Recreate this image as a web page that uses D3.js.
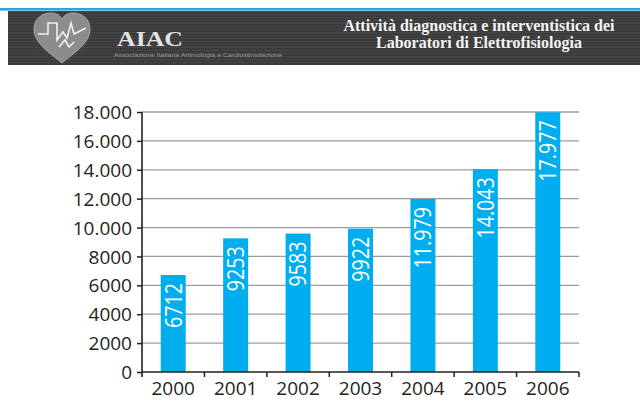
<!DOCTYPE html>
<html>
<head>
<meta charset="utf-8">
<script src="https://cdn.jsdelivr.net/npm/d3@7"></script>
<style>
  html, body { margin: 0; padding: 0; background: #fff; }
  svg { display: block; }
</style>
</head>
<body>
<div id="chart"></div>
<script>
// dati
const anni = ["2000", "2001", "2002", "2003", "2004", "2005", "2006"];
const valori = [6712, 9253, 9583, 9922, 11979, 14043, 17977];
const etichette = ["6712", "9253", "9583", "9922", "11.979", "14.043", "17.977"];
const tickValori = [0, 2000, 4000, 6000, 8000, 10000, 12000, 14000, 16000, 18000];
const tickEtichette = ["0", "2000", "4000", "6000", "8000", "10.000", "12.000", "14.000", "16.000", "18.000"];
const titolo = ["Attività diagnostica e interventistica dei", "Laboratori di Elettrofisiologia"];

const W = 640, H = 401;
const svg = d3.select("#chart").append("svg")
    .attr("width", W).attr("height", H);

// ---- intestazione ----
const defs = svg.append("defs");
const pat = defs.append("pattern")
    .attr("id", "righe").attr("patternUnits", "userSpaceOnUse")
    .attr("width", 4).attr("height", 3);
pat.append("rect").attr("width", 4).attr("height", 3).attr("fill", "#3b3b3b");
pat.append("rect").attr("y", 2).attr("width", 4).attr("height", 1).attr("fill", "#474747");

const alone = defs.append("radialGradient").attr("id", "alone");
alone.append("stop").attr("offset", "0%").attr("stop-color", "#6a6a6a").attr("stop-opacity", 0.8);
alone.append("stop").attr("offset", "100%").attr("stop-color", "#3b3b3b").attr("stop-opacity", 0);

svg.append("rect").attr("x", 0).attr("y", 8).attr("width", W).attr("height", 2.6).attr("fill", "#22a9e1");
svg.append("rect").attr("x", 8).attr("y", 11).attr("width", W - 8).attr("height", 54).attr("fill", "url(#righe)");

// logo cuore
const logo = svg.append("g").attr("transform", "translate(62,38)");
logo.append("ellipse").attr("rx", 36).attr("ry", 28).attr("fill", "url(#alone)");
logo.append("path")
    .attr("d", "M0,25 C-12,15 -28,5 -28,-9 C-28,-19 -20,-25 -11,-25 C-5,-25 -1,-22 0,-18 C1,-22 5,-25 11,-25 C20,-25 28,-19 28,-9 C28,5 12,15 0,25 Z")
    .attr("fill", "#8c8c8c").attr("stroke", "#a8a8a8").attr("stroke-width", 1);
logo.append("path")
    .attr("d", "M-24,-4 L-14,-4 L-14,-15 L-5,-15 L-5,2 L1,-6 L5,0 L9,-15 L12,-4 L24,-10")
    .attr("fill", "none").attr("stroke", "#f0f0f0").attr("stroke-width", 1.6);
logo.append("path")
    .attr("d", "M-3,9 L3,2 L7,9 L12,4")
    .attr("fill", "none").attr("stroke", "#f0f0f0").attr("stroke-width", 1.6);

svg.append("text")
    .attr("x", 117).attr("y", 46)
    .attr("textLength", 66).attr("lengthAdjust", "spacingAndGlyphs")
    .style("font-family", "'Liberation Serif', 'DejaVu Serif', serif")
    .style("font-weight", "bold").style("font-size", "21px")
    .attr("fill", "#e2e2e2")
    .text("AIAC");
svg.append("text")
    .attr("x", 114).attr("y", 57)
    .attr("textLength", 168).attr("lengthAdjust", "spacingAndGlyphs")
    .style("font-family", "'Liberation Sans', sans-serif")
    .style("font-size", "5px")
    .attr("fill", "#9a9a9a")
    .text("Associazione Italiana Aritmologia e Cardiostimolazione");

svg.selectAll("text.titolo")
    .data(titolo)
    .join("text")
    .attr("class", "titolo")
    .attr("x", 479)
    .attr("y", (d, i) => 31 + i * 17)
    .attr("text-anchor", "middle")
    .style("font-family", "'Liberation Serif', 'DejaVu Serif', serif")
    .style("font-weight", "bold").style("font-size", "16px")
    .attr("fill", "#f4f4f4")
    .text(d => d);

// ---- grafico ----
const margin = { left: 142, right: 61, top: 112, bottom: 29 };
const x = d3.scaleBand().domain(anni).range([margin.left, W - margin.right]).padding(0);
const y = d3.scaleLinear().domain([0, 18000]).range([H - margin.bottom, margin.top]);

const fontAssi = "'Open Sans', 'Noto Sans', sans-serif";
const inchiostro = "#231f20";

// griglia
svg.append("g")
    .selectAll("line")
    .data(tickValori.filter(v => v > 0))
    .join("line")
    .attr("x1", margin.left).attr("x2", W - margin.right)
    .attr("y1", d => y(d)).attr("y2", d => y(d))
    .attr("stroke", "#9c9c9c").attr("stroke-width", 1.3);

// barre
const barW = x.bandwidth() * 0.4;
svg.append("g")
    .selectAll("rect")
    .data(valori)
    .join("rect")
    .attr("x", (d, i) => x(anni[i]) + (x.bandwidth() - barW) / 2)
    .attr("y", d => y(d))
    .attr("width", barW)
    .attr("height", d => y(0) - y(d))
    .attr("fill", "#00adee");

// etichette dentro le barre
svg.append("g")
    .selectAll("text")
    .data(valori)
    .join("text")
    .attr("transform", (d, i) => `translate(${x(anni[i]) + x.bandwidth() / 2},${y(d) + 8}) rotate(-90) scale(0.82,1)`)
    .attr("text-anchor", "end")
    .attr("dy", "0.35em")
    .style("font-family", fontAssi).style("font-size", "24px")
    .attr("fill", "#fff")
    .text((d, i) => etichette[i]);

// asse y
const yAxis = d3.axisLeft(y)
    .tickValues(tickValori)
    .tickFormat((d, i) => tickEtichette[i])
    .tickSize(5).tickPadding(5);
const gy = svg.append("g").attr("transform", `translate(${margin.left},0)`).call(yAxis);
gy.select(".domain").attr("d", `M0,${y(18000)}V${y(0) + 5}`);

// asse x
const xAxis = d3.axisBottom(x).tickSize(0).tickPadding(10);
const gx = svg.append("g").attr("transform", `translate(0,${y(0)})`).call(xAxis);
gx.select(".domain").attr("d", `M${margin.left},0H${W - margin.right}`);
gx.append("g")
    .selectAll("line")
    .data(anni.slice(1).concat(["fine"]))
    .join("line")
    .attr("x1", d => d === "fine" ? W - margin.right : x(d))
    .attr("x2", d => d === "fine" ? W - margin.right : x(d))
    .attr("y1", 0).attr("y2", 5)
    .attr("stroke", inchiostro).attr("stroke-width", 1.5);

[gx, gy].forEach(g => {
    g.selectAll(".domain").attr("stroke", inchiostro).attr("stroke-width", 1.6);
    g.selectAll(".tick line").attr("stroke", inchiostro).attr("stroke-width", 1.5);
    g.selectAll("text")
        .style("font-family", fontAssi).style("font-size", "19px")
        .attr("fill", inchiostro);
});
gy.selectAll("text").attr("dy", "0.35em");
</script>
</body>
</html>
